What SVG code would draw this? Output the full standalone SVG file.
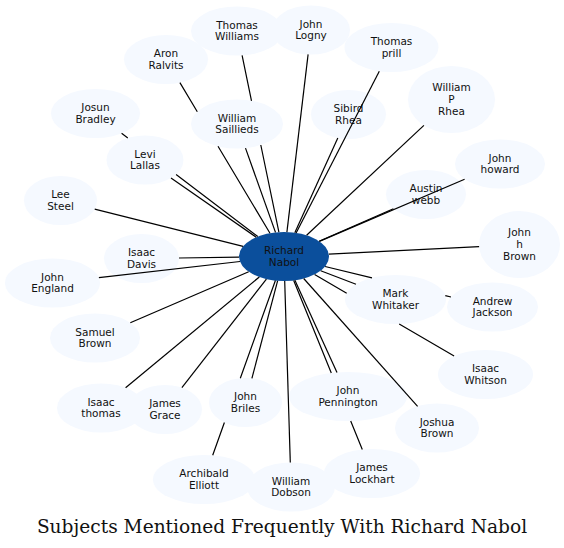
<svg xmlns="http://www.w3.org/2000/svg" width="564" height="548" viewBox="0 0 564 548">
<style>
.n ellipse{fill:#f5f9ff;stroke:none}
.c ellipse{fill:#0b4f9c;stroke:none}
text{font-family:"DejaVu Sans",sans-serif;font-size:10.5px;fill:#111;text-anchor:middle}
#edges path{stroke:#000;stroke-width:1.2;fill:none}
.title{font-family:"DejaVu Serif",serif;font-size:18.6px;fill:#111}
</style>
<rect width="564" height="548" fill="#fff"/>
<g id="nodes">
<g id="n-center" class="c"><ellipse cx="284" cy="256.5" rx="45" ry="24.5"/><text x="284" y="254.2">Richard</text><text x="284" y="265.9">Nabol</text></g>
<g id="n-tw" class="n"><ellipse cx="237" cy="31" rx="46" ry="24.5"/><text x="237" y="28.7">Thomas</text><text x="237" y="40.4">Williams</text></g>
<g id="n-ar" class="n"><ellipse cx="166" cy="59.5" rx="42" ry="24.5"/><text x="166" y="57.2">Aron</text><text x="166" y="68.9">Ralvits</text></g>
<g id="n-job" class="n"><ellipse cx="95.5" cy="113.5" rx="44.5" ry="24.5"/><text x="95.5" y="111.2">Josun</text><text x="95.5" y="122.9">Bradley</text></g>
<g id="n-ws" class="n"><ellipse cx="237" cy="124" rx="46" ry="24.5"/><text x="237" y="121.7">William</text><text x="237" y="133.4">Saillieds</text></g>
<g id="n-ll" class="n"><ellipse cx="145" cy="160" rx="38.5" ry="24.5"/><text x="145" y="157.7">Levi</text><text x="145" y="169.4">Lallas</text></g>
<g id="n-jl" class="n"><ellipse cx="311" cy="30" rx="39" ry="24.5"/><text x="311" y="27.7">John</text><text x="311" y="39.4">Logny</text></g>
<g id="n-tp" class="n"><ellipse cx="391.5" cy="47.5" rx="47" ry="24.5"/><text x="391.5" y="45.2">Thomas</text><text x="391.5" y="56.9">prill</text></g>
<g id="n-sr" class="n"><ellipse cx="348.5" cy="114.5" rx="37.5" ry="24.5"/><text x="348.5" y="112.2">Sibird</text><text x="348.5" y="123.9">Rhea</text></g>
<g id="n-wpr" class="n"><ellipse cx="451.5" cy="99.5" rx="43.5" ry="33.5"/><text x="451.5" y="91.4">William</text><text x="451.5" y="103.1">P</text><text x="451.5" y="114.8">Rhea</text></g>
<g id="n-jho" class="n"><ellipse cx="500" cy="164" rx="45" ry="24.5"/><text x="500" y="161.7">John</text><text x="500" y="173.4">howard</text></g>
<g id="n-aw" class="n"><ellipse cx="426" cy="194.5" rx="40" ry="24.5"/><text x="426" y="192.2">Austin</text><text x="426" y="203.9">webb</text></g>
<g id="n-jhb" class="n"><ellipse cx="519.5" cy="244.5" rx="40.5" ry="33.5"/><text x="519.5" y="236.4">John</text><text x="519.5" y="248.1">h</text><text x="519.5" y="259.8">Brown</text></g>
<g id="n-mw" class="n"><ellipse cx="395.5" cy="299.5" rx="50.5" ry="24.5"/><text x="395.5" y="297.2">Mark</text><text x="395.5" y="308.9">Whitaker</text></g>
<g id="n-aj" class="n"><ellipse cx="492.5" cy="307" rx="45.5" ry="24.5"/><text x="492.5" y="304.7">Andrew</text><text x="492.5" y="316.4">Jackson</text></g>
<g id="n-iw" class="n"><ellipse cx="485.5" cy="374.5" rx="47.5" ry="24.5"/><text x="485.5" y="372.2">Isaac</text><text x="485.5" y="383.9">Whitson</text></g>
<g id="n-jsb" class="n"><ellipse cx="437" cy="428" rx="42" ry="24.5"/><text x="437" y="425.7">Joshua</text><text x="437" y="437.4">Brown</text></g>
<g id="n-jp" class="n"><ellipse cx="348" cy="396.5" rx="59" ry="24.5"/><text x="348" y="394.2">John</text><text x="348" y="405.9">Pennington</text></g>
<g id="n-jlo" class="n"><ellipse cx="372" cy="473.5" rx="48" ry="24.5"/><text x="372" y="471.2">James</text><text x="372" y="482.9">Lockhart</text></g>
<g id="n-wd" class="n"><ellipse cx="291" cy="487" rx="44" ry="24.5"/><text x="291" y="484.7">William</text><text x="291" y="496.4">Dobson</text></g>
<g id="n-ae" class="n"><ellipse cx="204" cy="479.5" rx="51" ry="24.5"/><text x="204" y="477.2">Archibald</text><text x="204" y="488.9">Elliott</text></g>
<g id="n-jbr" class="n"><ellipse cx="245.5" cy="402.5" rx="36.5" ry="24.5"/><text x="245.5" y="400.2">John</text><text x="245.5" y="411.9">Briles</text></g>
<g id="n-it" class="n"><ellipse cx="101" cy="408" rx="44" ry="24.5"/><text x="101" y="405.7">Isaac</text><text x="101" y="417.4">thomas</text></g>
<g id="n-jg" class="n"><ellipse cx="165" cy="409.5" rx="37" ry="24.5"/><text x="165" y="407.2">James</text><text x="165" y="418.9">Grace</text></g>
<g id="n-sb" class="n"><ellipse cx="95" cy="338" rx="45" ry="24.5"/><text x="95" y="335.7">Samuel</text><text x="95" y="347.4">Brown</text></g>
<g id="n-je" class="n"><ellipse cx="52.5" cy="283" rx="47.5" ry="24.5"/><text x="52.5" y="280.7">John</text><text x="52.5" y="292.4">England</text></g>
<g id="n-id" class="n"><ellipse cx="141.5" cy="258.5" rx="37.5" ry="24.5"/><text x="141.5" y="256.2">Isaac</text><text x="141.5" y="267.9">Davis</text></g>
<g id="n-ls" class="n"><ellipse cx="60.5" cy="200.5" rx="36.5" ry="24.5"/><text x="60.5" y="198.2">Lee</text><text x="60.5" y="209.9">Steel</text></g>
</g>
<g id="edges">
<path d="M278.9,232.1L260.8,145M251.5,100.8L242.1,55.4"/>
<path d="M270,233.2L218,146.3M197.3,111.7L179.9,82.6"/>
<path d="M275.5,232.4L245.5,148.1"/>
<path d="M256.2,237.2L171,178.1"/>
<path d="M257.8,236.6L176.1,174.6M127.8,138L121.6,133.3"/>
<path d="M286.9,232.1L308.1,54.4"/>
<path d="M296.1,232.9L379.3,71.2"/>
<path d="M294.8,232.7L337.8,138"/>
<path d="M306.6,235.3L423.9,125.4"/>
<path d="M319.4,241.4L464.6,179.2"/>
<path d="M319.1,241.2L393.4,208.7"/>
<path d="M328.8,254.2L479.1,246.6"/>
<path d="M320.7,270.7L356,284.3"/>
<path d="M325.1,266.5L372,277.8M445.3,295.6L451,297"/>
<path d="M314.6,274.4L346.7,293.2M399.2,323.9L454.1,356.1"/>
<path d="M303.7,278.5L417.6,406.3"/>
<path d="M294.9,280.3L337,372.4"/>
<path d="M293.7,280.4L331.3,373M350.7,420.9L362.3,449.5"/>
<path d="M284.7,281L290.3,462.5"/>
<path d="M275.4,280.5L240.3,378.2M224.4,422.5L212.7,455.3"/>
<path d="M277.6,280.8L251.9,378.4"/>
<path d="M266.4,279.1L181.9,387.7"/>
<path d="M259.3,277L125.6,387.7"/>
<path d="M248.7,271.7L130.3,322.8"/>
<path d="M240,261.5L98.9,277.7"/>
<path d="M239,257.1L179,258"/>
<path d="M243.1,246.3L94.7,209.1"/>
</g>
<text class="title" x="282" y="532.5">Subjects Mentioned Frequently With Richard Nabol</text>
</svg>
